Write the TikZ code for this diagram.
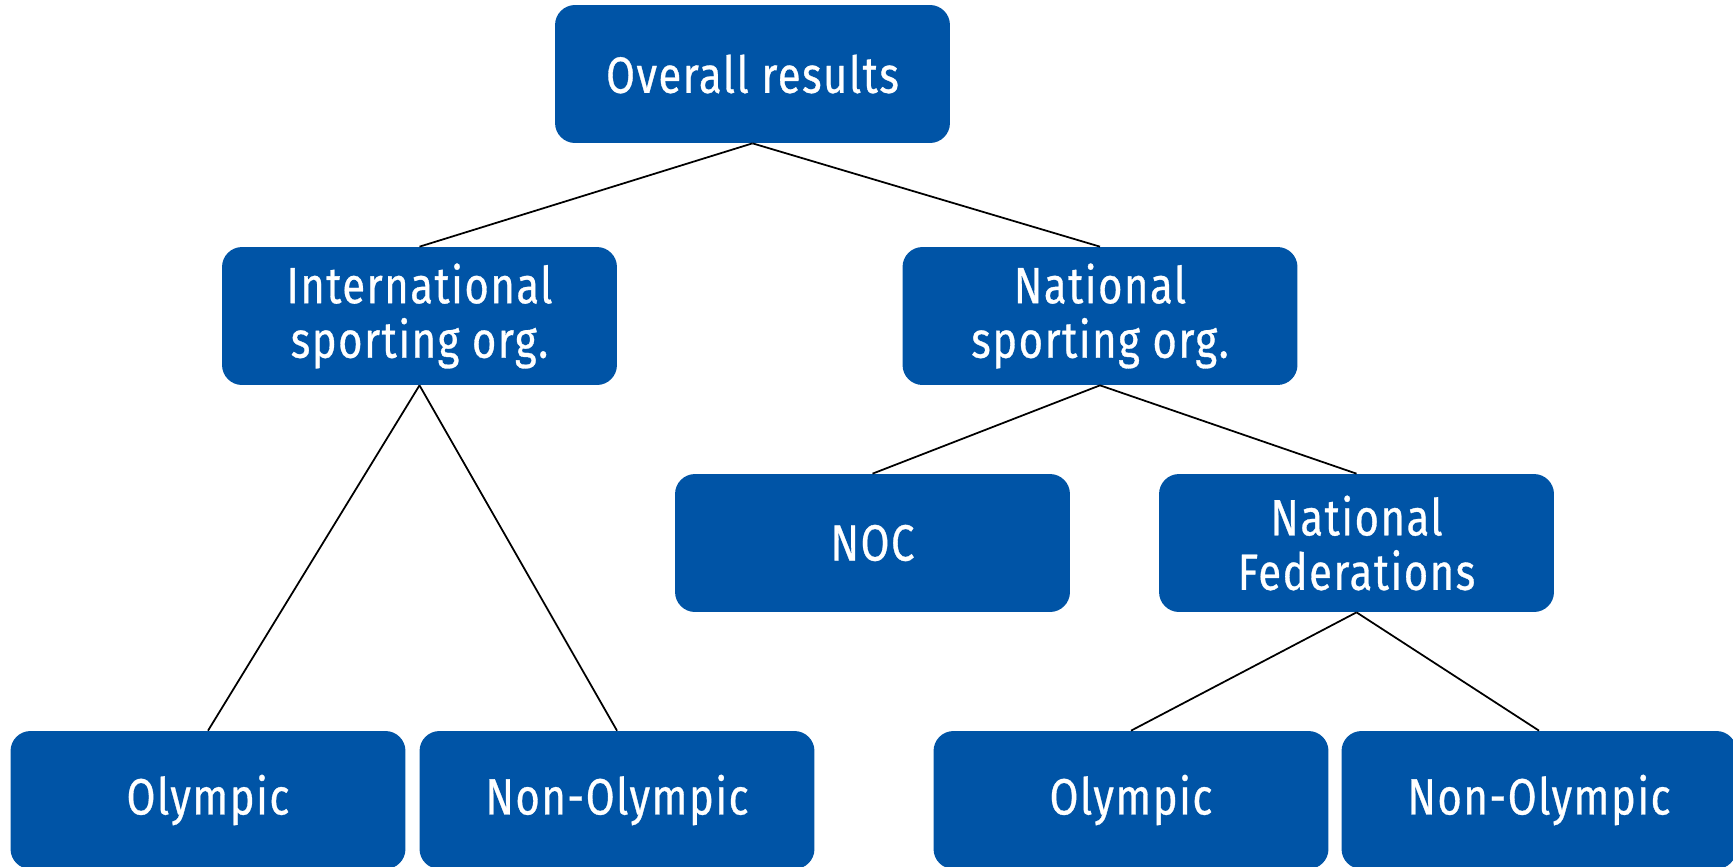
\documentclass[tikz,border=0pt]{standalone}
\usepackage{fontspec}
\setmainfont{Fira Sans}[FakeStretch=0.82, LetterSpace=3, FakeBold=0.6]
\usepackage{xcolor}
\usetikzlibrary{positioning}
\definecolor{orgblue}{RGB}{0, 84, 166}
\tikzstyle{orgbox} = [
    rectangle,
    rounded corners=0.4cm,
    minimum width=7.9cm,
    minimum height=2.76cm,
    inner sep=0pt,
    align=center,
    fill=orgblue,
    text=white,
    font=\fontsize{29}{31}\selectfont
]
\tikzstyle{link} = [
    line width=1pt,
    color=black
]

\begin{document}
\begin{tikzpicture}[x=0.02cm, y=-0.02cm]
        \useasboundingbox (0, 0) rectangle (1733, 866);
        % Top
        \node[orgbox] (overall) at (752.5, 74) {Overall results};

        % Second level
        \node[orgbox] (intl) at (419.5, 316) {International\\sporting org.};
        \node[orgbox] (natl) at (1100, 316) {National\\sporting org.};

        % Third level
        \node[orgbox] (noc) at (872.5, 543) {NOC};
        \node[orgbox] (natfed) at (1356.5, 543) {National\\Federations};

        % Bottom level
        \node[orgbox] (intlolym) at (208, 800) {Olympic};
        \node[orgbox] (intlnon) at (617, 800) {Non-Olympic};
        \node[orgbox] (fedolym) at (1131, 800) {Olympic};
        \node[orgbox] (fednon) at (1539, 800) {Non-Olympic};

        % Links
        \draw[link] (overall.south) -- (intl.north);
        \draw[link] (overall.south) -- (natl.north);
        \draw[link] (intl.south) -- (intlolym.north);
        \draw[link] (intl.south) -- (intlnon.north);
        \draw[link] (natl.south) -- (noc.north);
        \draw[link] (natl.south) -- (natfed.north);
        \draw[link] (natfed.south) -- (fedolym.north);
        \draw[link] (natfed.south) -- (fednon.north);
    \end{tikzpicture}
\end{document}
